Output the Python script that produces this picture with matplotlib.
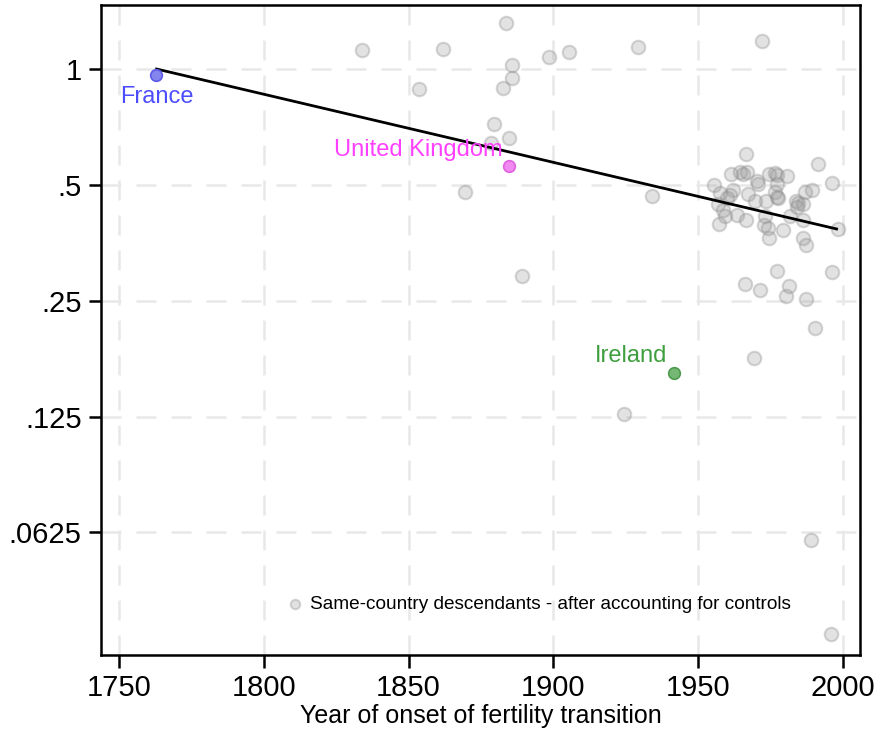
import numpy as np
import matplotlib
matplotlib.use("Agg")
import matplotlib.pyplot as plt
from matplotlib.ticker import FixedLocator, FixedFormatter, NullLocator

plt.rcParams['font.family'] = ['Liberation Sans', 'DejaVu Sans']

# descendants of other countries (onset year, coefficient)
years = [1833.8, 1861.8, 1883.6, 1898.5, 1905.5, 1929.4, 1885.6, 1885.6,
         1882.5, 1853.7, 1879.6, 1884.6, 1878.6, 1869.6, 1934.2, 1889.2,
         1924.4, 1989.0, 1995.9, 1972.0,
         1966.4, 1991.3, 1996.2, 1961.2, 1964.4, 1965.6, 1967.0, 1970.2,
         1970.6, 1974.3, 1976.5, 1977.3, 1980.6, 1977.3, 1976.5, 1977.3,
         1955.5, 1957.5, 1961.9, 1961.0, 1959.8, 1967.3, 1969.6, 1973.4,
         1977.5, 1986.9, 1989.2, 1983.8, 1984.6, 1986.3, 1984.2, 1956.9,
         1958.7, 1959.3, 1963.3, 1966.5, 1957.3, 1973.1, 1972.7, 1974.2,
         1979.4, 1981.7, 1986.3, 1974.3, 1986.3, 1987.2, 1998.4,
         1977.3, 1996.2, 1966.3, 1971.2, 1981.4, 1980.3, 1987.2, 1990.2,
         1969.4]
coefs = [1.12, 1.127, 1.317, 1.074, 1.107, 1.139, 1.024, 0.945,
         0.891, 0.886, 0.718, 0.663, 0.643, 0.478, 0.468, 0.290,
         0.127, 0.0596, 0.034, 1.183,
         0.601, 0.567, 0.507, 0.533, 0.541, 0.535, 0.541, 0.511,
         0.504, 0.535, 0.537, 0.530, 0.528, 0.502, 0.480, 0.466,
         0.499, 0.477, 0.485, 0.470, 0.461, 0.473, 0.454, 0.454,
         0.463, 0.480, 0.485, 0.454, 0.449, 0.447, 0.438, 0.447,
         0.430, 0.415, 0.417, 0.405, 0.395, 0.415, 0.393, 0.387,
         0.381, 0.415, 0.405, 0.363, 0.363, 0.348, 0.385,
         0.298, 0.296, 0.276, 0.266, 0.273, 0.257, 0.253, 0.212,
         0.177]

# highlighted countries
hl_names = ['France', 'United Kingdom', 'Ireland']
hl_years = [1762.8, 1884.7, 1941.6]
hl_coefs = [0.965, 0.559, 0.162]
hl_fill = ['#8585ee', '#f08af0', '#74b874']
hl_edge = ['#5a5ae6', '#e060e0', '#4f9a4f']
hl_text = ['#4d4dff', '#ff40ff', '#3f9f3f']
hl_offsets = [(1, -22), (-6, 16), (-7, 17)]
hl_ha = ['center', 'right', 'right']

# fitted line end points
fit_years = [1763.0, 1997.8]
fit_coefs = [1.0, 0.384]

ytick_vals = [1, 0.5, 0.25, 0.125, 0.0625]
ytick_labels = ['1', '.5', '.25', '.125', '.0625']
xtick_vals = [1750, 1800, 1850, 1900, 1950, 2000]

fig = plt.figure(figsize=(8.75, 7.32), dpi=100)
ax = fig.add_axes([0.1154, 0.1052, 0.8675, 0.888])

ax.set_yscale('log', base=2)
ax.set_xlim(1743.8, 2005.9)
ax.set_ylim(0.0300, 1.467)

for xv in xtick_vals:
    ax.axvline(xv, color='#e8e8e8', lw=1.8, dashes=(8, 6), zorder=0)
for yv in ytick_vals:
    ax.axhline(yv, color='#e8e8e8', lw=1.8, dashes=(8, 6), zorder=0)

ax.scatter(years, coefs, s=95, facecolor=(0.6, 0.6, 0.6, 0.28),
           edgecolor=(0.55, 0.55, 0.55, 0.35), linewidth=1.5, zorder=2,
           label='Same-country descendants - after accounting for controls')

ax.plot(fit_years, fit_coefs, color='black', lw=2, zorder=3)

for name, xv, yv, fc, ec, tc, off, ha in zip(hl_names, hl_years, hl_coefs,
                                             hl_fill, hl_edge, hl_text,
                                             hl_offsets, hl_ha):
    ax.scatter([xv], [yv], s=70, facecolor=fc, edgecolor=ec, linewidth=1.2,
               zorder=4)
    ax.annotate(name, (xv, yv), xytext=off, textcoords='offset pixels',
                ha=ha, va='center', fontsize=17, color=tc, zorder=5)

ax.yaxis.set_major_locator(FixedLocator(ytick_vals))
ax.yaxis.set_major_formatter(FixedFormatter(ytick_labels))
ax.yaxis.set_minor_locator(NullLocator())
ax.set_xticks(xtick_vals)

ax.tick_params(axis='both', which='major', labelsize=21, length=9, width=1.8,
               direction='out', color='black')
ax.tick_params(axis='x', pad=5)
ax.tick_params(axis='y', pad=5)
for sp in ax.spines.values():
    sp.set_linewidth(1.8)

ax.set_xlabel('Year of onset of fertility transition', fontsize=18, labelpad=1)

leg = ax.legend(loc='center left', bbox_to_anchor=(0.223, 0.078), frameon=False,
                fontsize=13.7, handlelength=0.8, handletextpad=0.4,
                markerscale=0.7)

fig.savefig('out.png', dpi=100)
